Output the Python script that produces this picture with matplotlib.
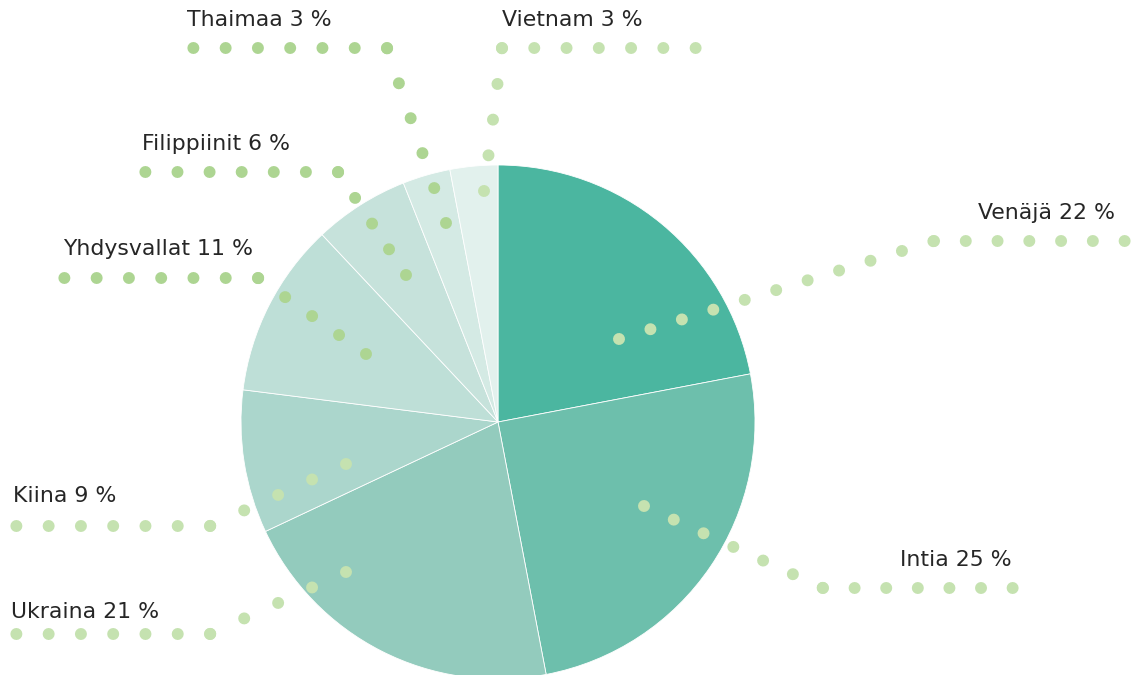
import matplotlib
matplotlib.use("Agg")
import matplotlib.pyplot as plt
import math

# ---- data ----
countries = ["Venäjä", "Intia", "Ukraina", "Kiina", "Yhdysvallat",
             "Filippiinit", "Thaimaa", "Vietnam"]
shares = [22, 25, 21, 9, 11, 6, 3, 3]

# ---- styles ----
slice_colors = ["#4BB6A0", "#6DBFAC", "#93CBBD", "#ABD6CC", "#BEDFD7",
                "#C6E2DB", "#D4EAE4", "#E2F1ED"]
DOT_DARK = "#ADD592"
DOT_LIGHT = "#C5E2B0"
dot_colors = [DOT_LIGHT, DOT_LIGHT, DOT_LIGHT, DOT_LIGHT, DOT_DARK,
              DOT_DARK, DOT_DARK, DOT_LIGHT]

# leader layout (pixel coords, y downward): start, elbow, end of horizontal
leader_start = [(619, 339), (644, 506), (346, 572), (346, 464), (366, 354),
                (406, 275), (446, 223), (484, 191)]
leader_elbow = [(934, 241), (823, 588), (210, 634), (210, 526), (258, 278),
                (338, 172), (387, 48), (502, 48)]
leader_end_x = [1125, 1013, 16, 16, 64, 145, 193, 696]
diag_steps = [10, 6, 4, 4, 4, 4, 5, 4]
horiz_steps = 6
label_x = [1115, 1012, 11, 13, 63, 142, 187, 502]
label_y = [213, 560, 612, 496, 249, 144, 20, 20]
label_ha = ["right", "right", "left", "left", "left", "left", "left", "left"]

W, H = 1133, 675
CX, CY, R = 498, 422, 257
DOT_PX = 12.0

fig = plt.figure(figsize=(W / 100, H / 100), dpi=100)
ax = fig.add_axes([0, 0, 1, 1])

ax.pie(shares, colors=slice_colors, startangle=90, counterclock=False,
       center=(CX, H - CY), radius=R,
       wedgeprops=dict(edgecolor="white", linewidth=0.6))

lw_pt = DOT_PX * 72 / 100


def dotted_segment(p0, p1, n, color):
    L = math.hypot(p1[0] - p0[0], p1[1] - p0[1])
    s = L / n
    v = s / DOT_PX * 0.998
    ax.plot([p0[0], p1[0]], [p0[1], p1[1]], color=color, linewidth=lw_pt,
            linestyle=(0, (0.001, v - 0.001)), dash_capstyle="round",
            solid_capstyle="round", zorder=5)


for i, name in enumerate(countries):
    (sx, sy), (ex, ey) = leader_start[i], leader_elbow[i]
    p0 = (sx, H - sy)
    p1 = (ex, H - ey)
    p2 = (leader_end_x[i], H - ey)
    dotted_segment(p0, p1, diag_steps[i], dot_colors[i])
    dotted_segment(p1, p2, horiz_steps, dot_colors[i])
    ax.text(label_x[i], H - label_y[i], f"{name} {shares[i]} %",
            ha=label_ha[i], va="center", fontsize=15.8, color="#262626",
            family="DejaVu Sans", zorder=6)

ax.set_xlim(0, W)
ax.set_ylim(0, H)
ax.set_aspect("auto")
ax.axis("off")

fig.savefig("out.png", dpi=100)
